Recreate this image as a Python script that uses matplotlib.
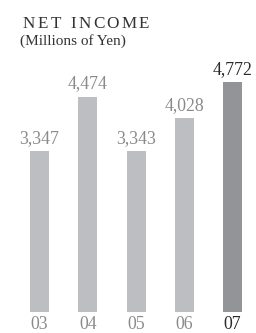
import numpy as np
import matplotlib
matplotlib.use("Agg")
import matplotlib.pyplot as plt
from matplotlib.font_manager import FontProperties
from matplotlib.textpath import text_to_path

# Datos
anios = ["03", "04", "05", "06", "07"]
utilidad = [3347, 4474, 3343, 4028, 4772]
etiquetas = ["3,347", "4,474", "3,343", "4,028", "4,772"]

gris_claro = "#bdbec2"
gris_oscuro = "#939498"
texto_gris = "#8a8a8c"
texto_oscuro = "#2a2a2a"

W, H, dpi = 256, 333, 100
fig = plt.figure(figsize=(W / dpi, H / dpi), dpi=dpi)

# ejes en pixeles: base de barras a 312 px desde arriba
base_px = H - 312
ax = fig.add_axes([0, base_px / H, 1, 1 - base_px / H])
paso = 48.25
x0 = 39.5
ax.set_xlim(-x0 / paso, (W - x0) / paso)
escala = 161 / 3347  # px por unidad
ax.set_ylim(0, 312 / escala)
ax.axis("off")

x = np.arange(len(anios))
colores = [gris_claro] * 4 + [gris_oscuro]
ax.bar(x, utilidad, width=19 / paso, color=colores)

serif = "Liberation Serif"
for i, (v, lab) in enumerate(zip(utilidad, etiquetas)):
    c = texto_oscuro if i == len(anios) - 1 else texto_gris
    ax.annotate(lab, (i, v), xytext=(0, 6), textcoords="offset points",
                ha="center", va="baseline", fontsize=12.8, color=c, family=serif)
    ax.annotate(anios[i], (i, 0), xytext=(0, -12.3), textcoords="offset points",
                ha="center", va="baseline", fontsize=12.8, color=c, family=serif)

# Titulo con espaciado entre letras
def texto_espaciado(s, x_px, y_px, size, espacio_px, color):
    prop = FontProperties(family=serif, size=size)
    xp = x_px
    for ch in s:
        fig.text(xp / W, 1 - y_px / H, ch, fontproperties=prop, color=color,
                 ha="left", va="baseline")
        w, _, _ = text_to_path.get_text_width_height_descent(ch, prop, ismath=False)
        xp += w * dpi / 72 + espacio_px

texto_espaciado("NET INCOME", 23, 28, 12.3, 2.4, "#333333")
fig.text(20 / W, 1 - 45 / H, "(Millions of Yen)", family=serif, fontsize=11,
         color="#333333", ha="left", va="baseline")

fig.savefig("out.png", dpi=dpi)
